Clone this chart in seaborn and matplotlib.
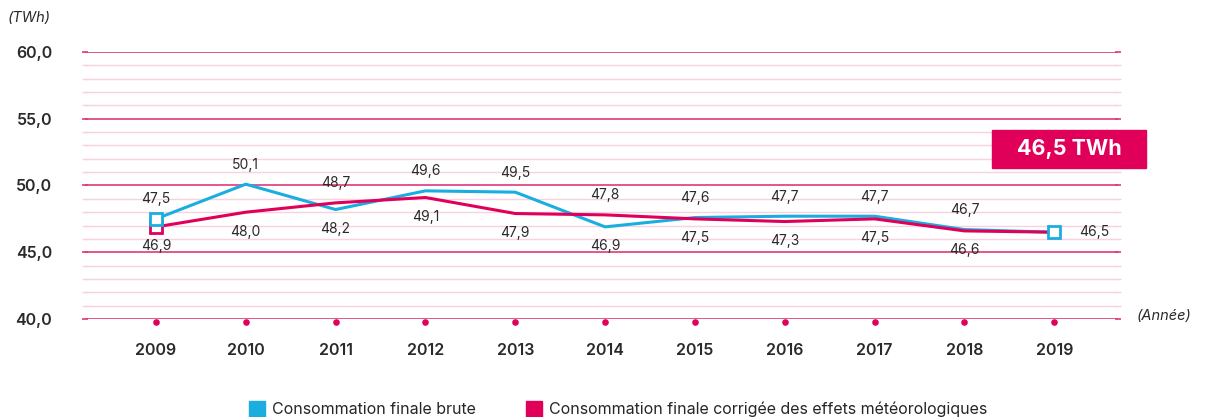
import matplotlib
matplotlib.use("Agg")
import matplotlib.pyplot as plt
import matplotlib.transforms as mtransforms
from matplotlib.ticker import MultipleLocator
from matplotlib.lines import Line2D
import seaborn as sns
import pandas as pd

years = [2009, 2010, 2011, 2012, 2013, 2014, 2015, 2016, 2017, 2018, 2019]
brute = [47.5, 50.1, 48.2, 49.6, 49.5, 46.9, 47.6, 47.7, 47.7, 46.7, 46.5]
corrigee = [46.9, 48.0, 48.7, 49.1, 47.9, 47.8, 47.5, 47.3, 47.5, 46.6, 46.5]
series_names = ["Consommation finale brute",
                "Consommation finale corrigée des effets météorologiques"]
yticks = [40, 45, 50, 55, 60]
highlight = "46,5 TWh"

BLUE = "#1aaee0"
RED = "#e0005a"
MAJOR = "#e2387a"
MINOR = "#f9d2e1"
TXT = "#2a2a2a"

sns.set_theme(style="white")
plt.rcParams['font.family'] = ['Inter', 'DejaVu Sans']

df = pd.DataFrame({
    "year": years * 2,
    "value": brute + corrigee,
    "serie": [series_names[0]] * len(years) + [series_names[1]] * len(years),
})

fig = plt.figure(figsize=(12.12, 4.17), dpi=100)
ax = fig.add_axes([85 / 1212, 1 - 319 / 417, (1118 - 85) / 1212, (319 - 52) / 417])

ax.set_xlim(2008.21, 2019.71)
ax.set_ylim(40, 60)

# grid
ax.yaxis.set_major_locator(MultipleLocator(5))
ax.yaxis.set_minor_locator(MultipleLocator(1))
ax.grid(which="minor", axis="y", color=MINOR, lw=1.0, zorder=0)
ax.grid(which="major", axis="y", color=MAJOR, lw=1.2, zorder=0)
ax.set_axisbelow(True)
for s in ax.spines.values():
    s.set_visible(False)
ax.tick_params(axis="y", which="major", left=True, right=True, direction="inout",
               length=5, width=1.2, color=MAJOR, labelsize=11.5, labelcolor=TXT, pad=21)
ax.tick_params(axis="y", which="minor", left=True, right=True, direction="inout",
               length=4, width=1.0, color=MINOR)
ax.set_yticks(yticks)
ax.set_yticklabels([f"{v:.1f}".replace(".", ",") for v in yticks], fontweight="semibold")

ax.set_xticks(years)
ax.set_xticklabels([str(y) for y in years], fontweight="semibold", fontsize=11.5, color=TXT)
ax.tick_params(axis="x", length=0, pad=17)

sns.lineplot(data=df, x="year", y="value", hue="serie", palette=[BLUE, RED],
             lw=2.2, ax=ax, legend=False, zorder=3)

# open square markers
ax.plot([years[0]], [corrigee[0]], marker="s", ms=9, mfc="white", mec=RED, mew=2, ls="none", zorder=4)
ax.plot([years[0], years[-1]], [brute[0], brute[-1]], marker="s", ms=9, mfc="white",
        mec=BLUE, mew=2, ls="none", zorder=5)

# dots on baseline
offset = mtransforms.ScaledTranslation(0, -2 / 72, fig.dpi_scale_trans)
ax.scatter(years, [40] * len(years), s=14, color=RED, zorder=4, clip_on=False,
           transform=ax.transData + offset)

# data labels
fmt = lambda v: f"{v:.1f}".replace(".", ",")
for i, y in enumerate(years):
    b, c = brute[i], corrigee[i]
    if i == len(years) - 1:
        ax.annotate(fmt(b), (y, b), xytext=(18, 0), textcoords="offset points",
                    ha="left", va="center", fontsize=10, color=TXT)
        continue
    ax.annotate(fmt(max(b, c)), (y, max(b, c)), xytext=(0, 9), textcoords="offset points",
                ha="center", va="bottom", fontsize=10, color=TXT)
    ax.annotate(fmt(min(b, c)), (y, min(b, c)), xytext=(0, -9), textcoords="offset points",
                ha="center", va="top", fontsize=10, color=TXT)

ax.set_xlabel("")
ax.set_ylabel("")

fig.text(8 / 1212, 1 - 18 / 417, "(TWh)", fontstyle="italic", fontsize=10.5, color=TXT,
         ha="left", va="center")
fig.text(1137 / 1212, 1 - 316 / 417, "(Année)", fontstyle="italic", fontsize=10.5, color=TXT,
         ha="left", va="center")

# highlight box
fig.patches.append(plt.Rectangle((992 / 1212, 1 - 168 / 417), 154 / 1212, 38 / 417,
                                 transform=fig.transFigure, color=RED, zorder=5))
fig.text((992 + 77) / 1212, 1 - 149 / 417, highlight, color="white", fontweight="bold",
         fontsize=15.5, ha="center", va="center", zorder=6)

# legend
handles = [Line2D([], [], marker="s", ls="none", ms=11, color=BLUE),
           Line2D([], [], marker="s", ls="none", ms=11, color=RED)]
fig.legend(handles, series_names, loc="lower center", bbox_to_anchor=(0.51, -0.035),
           ncol=2, frameon=False, fontsize=11.5, handletextpad=0.4, columnspacing=3.2,
           handlelength=1.0)

fig.savefig("out.png", dpi=100)
